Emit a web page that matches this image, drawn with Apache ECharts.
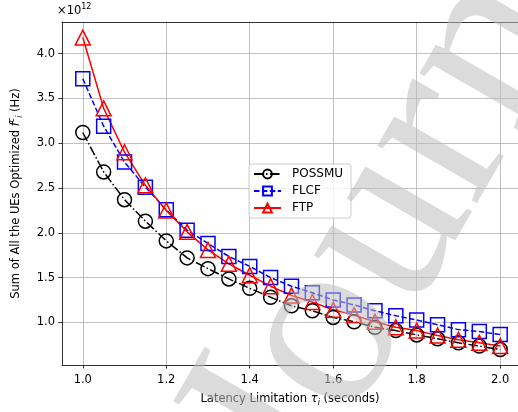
<!DOCTYPE html>
<html>
<head>
<meta charset="utf-8">
<script src="https://cdn.jsdelivr.net/npm/echarts@6/dist/echarts.min.js"></script>
<style>
  html, body { margin: 0; padding: 0; background: #fff; }
  #chart { width: 518px; height: 412px; }
</style>
</head>
<body>
<div id="chart"></div>
<script>
// latency limitation (seconds)
const latency = [1.0, 1.05, 1.1, 1.15, 1.2, 1.25, 1.3, 1.35, 1.4, 1.45, 1.5,
  1.55, 1.6, 1.65, 1.7, 1.75, 1.8, 1.85, 1.9, 1.95, 2.0]
// sum of optimized f (x 10^12 Hz)
const possmu = [3.12, 2.68, 2.37, 2.13, 1.91, 1.72, 1.60, 1.485, 1.38, 1.28, 1.185,
  1.13, 1.055, 1.007, 0.945, 0.908, 0.86, 0.816, 0.772, 0.735, 0.697]
const flcf = [3.72, 3.19, 2.79, 2.51, 2.257, 2.03, 1.882, 1.735, 1.625, 1.50, 1.404,
  1.331, 1.25, 1.195, 1.129, 1.074, 1.026, 0.974, 0.919, 0.897, 0.864]
const ftp = [4.18, 3.39, 2.90, 2.53, 2.25, 2.011, 1.809, 1.654, 1.526, 1.404, 1.301,
  1.228, 1.14, 1.081, 1.007, 0.945, 0.908, 0.853, 0.805, 0.772, 0.735]
const xTicks = [1.0, 1.2, 1.4, 1.6, 1.8, 2.0]
const yTicks = [1.0, 1.5, 2.0, 2.5, 3.0, 3.5, 4.0]

const FONT = 'DejaVu Sans'
const pairs = (ys) => latency.map((x, i) => [x, ys[i]])

const chart = echarts.init(document.getElementById('chart'), null, { renderer: 'canvas' })

const axisBase = {
  axisLine: { show: true, lineStyle: { color: '#000', width: 0.8 } },
  axisTick: { show: true, length: 3.5, inside: false, lineStyle: { color: '#000', width: 0.8 } },
  splitLine: { show: true, lineStyle: { color: '#b0b0b0', width: 0.8 } }
}

const option = {
  animation: false,
  backgroundColor: '#fff',
  grid: { left: 57, right: 0, top: 22, bottom: 44 },
  xAxis: [{
    type: 'value',
    min: 0.9502,
    max: 2.0427,
    ...axisBase,
    axisTick: { ...axisBase.axisTick, customValues: xTicks },
    axisLabel: {
      customValues: xTicks, margin: 9, color: '#000', fontFamily: FONT, fontSize: 11.5,
      formatter: (v) => v.toFixed(1)
    },
    name: 'Latency Limitation {it|τ}{sub|i} (seconds)',
    nameLocation: 'middle',
    nameGap: 26,
    nameTextStyle: {
      color: '#000', fontFamily: FONT, fontSize: 11.5, lineHeight: 16,
      rich: {
        it: { fontStyle: 'italic', fontFamily: FONT, fontSize: 11.5, lineHeight: 16 },
        sub: { fontStyle: 'italic', fontFamily: FONT, fontSize: 8, lineHeight: 16, verticalAlign: 'bottom' }
      }
    }
  }, {
    type: 'value',
    position: 'top',
    min: 0.9502,
    max: 2.0427,
    axisLine: { show: true, onZero: false, lineStyle: { color: '#000', width: 0.8 } },
    axisTick: { show: false },
    axisLabel: { show: false },
    splitLine: { show: false }
  }],
  yAxis: {
    type: 'value',
    min: 0.524,
    max: 4.354,
    ...axisBase,
    axisTick: { ...axisBase.axisTick, customValues: yTicks },
    axisLabel: {
      customValues: yTicks, margin: 7, color: '#000', fontFamily: FONT, fontSize: 11.5,
      formatter: (v) => v.toFixed(1)
    },
    name: 'Sum of All the UEs Optimized {it|f}{sup|c}{sub|i} (Hz)',
    nameLocation: 'middle',
    nameRotate: 90,
    nameGap: 38,
    nameTextStyle: {
      color: '#000', fontFamily: FONT, fontSize: 11.5, lineHeight: 16,
      rich: {
        it: { fontStyle: 'italic', fontFamily: FONT, fontSize: 11.5, lineHeight: 16 },
        sup: { fontStyle: 'italic', fontFamily: FONT, fontSize: 8, lineHeight: 16, verticalAlign: 'top' },
        sub: { fontStyle: 'italic', fontFamily: FONT, fontSize: 8, lineHeight: 16, verticalAlign: 'bottom' }
      }
    }
  },
  legend: {
    orient: 'vertical',
    left: 249,
    top: 164,
    itemWidth: 27,
    itemHeight: 11,
    itemGap: 5,
    padding: [4, 8, 4, 4],
    borderColor: '#cccccc',
    borderWidth: 1,
    borderRadius: 3,
    backgroundColor: 'rgba(255,255,255,0.8)',
    textStyle: { color: '#000', fontFamily: FONT, fontSize: 12, padding: [0, 0, 0, 6] },
    data: ['POSSMU', 'FLCF', 'FTP']
  },
  graphic: [{
    type: 'text',
    left: 57,
    top: 3,
    style: {
      text: '×10{sup|12}',
      fontFamily: FONT,
      fontSize: 11.5,
      fill: '#000',
      rich: { sup: { fontFamily: FONT, fontSize: 8, verticalAlign: 'top', lineHeight: 16 } },
      lineHeight: 16
    }
  }, {
    // watermark
    type: 'text',
    z: 100,
    silent: true,
    x: 352,
    y: 538,
    rotation: 60 * Math.PI / 180,
    style: {
      text: 'Journal Pre-proof',
      fontFamily: 'Liberation Serif',
      fontSize: 250,
      fill: 'rgba(190,190,190,0.55)',
      verticalAlign: 'bottom'
    }
  }],
  series: [{
    name: 'POSSMU',
    type: 'line',
    data: pairs(possmu),
    symbol: 'circle',
    symbolSize: 14,
    lineStyle: { color: '#000', width: 1.5, type: [9.6, 2.4, 1.5, 2.4] },
    itemStyle: { color: 'rgba(0,0,0,0)', borderColor: '#000', borderWidth: 1.5 }
  }, {
    name: 'FLCF',
    type: 'line',
    data: pairs(flcf),
    symbol: 'rect',
    symbolSize: 14,
    lineStyle: { color: '#0000ff', width: 1.5, type: [5.5, 2.4] },
    itemStyle: { color: 'rgba(0,0,0,0)', borderColor: '#0000ff', borderWidth: 1.5 }
  }, {
    name: 'FTP',
    type: 'line',
    data: pairs(ftp),
    symbol: 'triangle',
    symbolSize: 15,
    lineStyle: { color: '#ff0000', width: 1.5 },
    itemStyle: { color: 'rgba(0,0,0,0)', borderColor: '#ff0000', borderWidth: 1.5 }
  }]
}

chart.setOption(option)
window.addEventListener('resize', () => {
  chart && chart.resize()
})
</script>
</body>
</html>
